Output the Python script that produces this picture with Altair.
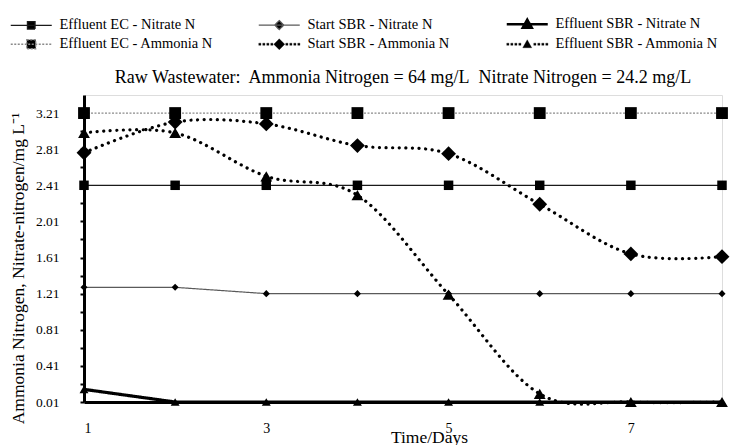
import altair as alt
import pandas as pd

days = [1, 2, 3, 4, 5, 6, 7, 8]
series_names = [
    "Effluent EC - Nitrate N",
    "Start SBR - Nitrate N",
    "Effluent SBR - Nitrate N",
    "Effluent EC - Ammonia N",
    "Start SBR - Ammonia N",
    "Effluent SBR - Ammonia N",
]
ec_nitrate = [2.41, 2.41, 2.41, 2.41, 2.41, 2.41, 2.41, 2.41]
start_nitrate = [1.28, 1.28, 1.21, 1.21, 1.21, 1.21, 1.21, 1.21]
eff_nitrate = [0.15, 0.01, 0.01, 0.01, 0.01, 0.01, 0.01, 0.01]
ec_ammonia = [3.21, 3.21, 3.21, 3.21, 3.21, 3.21, 3.21, 3.21]
start_ammonia = [2.77, 3.11, 3.09, 2.85, 2.76, 2.20, 1.65, 1.62]
eff_ammonia = [2.99, 2.99, 2.51, 2.30, 1.20, 0.10, 0.01, 0.01]

y_tick_values = [0.01, 0.21, 0.41, 0.61, 0.81, 1.01, 1.21, 1.41, 1.61, 1.81,
                 2.01, 2.21, 2.41, 2.61, 2.81, 3.01, 3.21]
x_tick_values = [1, 3, 5, 7]

all_values = [ec_nitrate, start_nitrate, eff_nitrate, ec_ammonia, start_ammonia, eff_ammonia]
rows = []
for name, vals in zip(series_names, all_values):
    for d, v in zip(days, vals):
        rows.append({"day": d, "value": v, "series": name})
df = pd.DataFrame(rows)

FONT = "Liberation Serif"

color_range = ["#1a1a1a", "#5a5a5a", "#000000", "#8a8a8a", "#000000", "#000000"]
dash_range = [[1, 0], [1, 0], [1, 0], [2, 1.5], [0.1, 6.5], [0.1, 6.5]]
legend_dash_range = [[1, 0], [1, 0], [1, 0], [2, 1.5], [1, 0], [1, 0]]
width_range = [1.2, 1.2, 3.2, 1.3, 3.2, 3.2]
legend_width_range = [1.4, 1.3, 2.6, 1.3, 0.3, 0.3]
shape_range = ["square", "diamond", "triangle-up", "square", "diamond", "triangle-up"]
size_range = [90, 50, 80, 140, 220, 140]

# dotted legend line drawn as small filled dots (style only)
_dots = "".join(
    "M{:.2f},-0.22h0.44v0.44h-0.44Z".format(p)
    for p in (-4.1, -3.3, -2.5, -1.7, 1.3, 2.1, 2.9, 3.7)
)
legend_paths = [
    "M-4.1,0H4.1M-0.75,-0.75H0.75V0.75H-0.75Z",
    "M-4.1,0H4.1M0,-0.9L0.9,0L0,0.9L-0.9,0Z",
    "M-4.1,0H4.1M0,-0.9L0.9,0.7H-0.9Z",
    "M-4.1,0H4.1M-0.9,-0.9H0.9V0.9H-0.9Z",
    _dots + "M0,-1.1L1.1,0L0,1.1L-1.1,0Z",
    _dots + "M0,-0.9L0.9,0.7H-0.9Z",
]

x_enc = alt.X(
    "day:Q",
    scale=alt.Scale(domain=[1, 8], nice=False, zero=False),
    axis=alt.Axis(
        values=x_tick_values, format="d", ticks=False, grid=False,
        domainColor="black", domainWidth=3, labelPadding=19,
        labelFont=FONT, labelFontSize=14, labelColor="black",
        title="Time/Days", titleFont=FONT, titleFontSize=17.5, titleFontWeight="normal",
        titleColor="black", titleX=345, titleY=26, titleBaseline="top", titleAlign="center",
    ),
)
y_enc = alt.Y(
    "value:Q",
    scale=alt.Scale(domain=[0.01, 3.41], nice=False, zero=False),
    axis=alt.Axis(
        values=y_tick_values,
        labelExpr="round((datum.value - 0.01) * 5) % 2 == 0 ? format(datum.value, '.2f') : ''",
        grid=False, domainColor="black", domainWidth=3,
        ticks=True, tickSize=4, tickWidth=2, tickColor="black",
        labelPadding=21, labelFont=FONT, labelFontSize=13.5, labelColor="black",
        title="Ammonia Nitrogen, Nitrate-nitrogen/mg L\u207b\u00b9",
        titleFont=FONT, titleFontSize=17.5, titleFontWeight="normal", titleColor="black",
        titleAngle=270, titleX=-66, titleY=173, titleBaseline="middle", titleAlign="center",
    ),
)

def sc(rng, typ=None):
    if typ:
        return alt.Scale(type=typ, domain=series_names, range=rng)
    return alt.Scale(domain=series_names, range=rng)

base = alt.Chart(df)

linear_names = series_names[:4]
smooth_names = series_names[4:]

lines_linear = base.transform_filter(
    alt.FieldOneOfPredicate(field="series", oneOf=linear_names)
).mark_line(interpolate="linear", strokeCap="butt").encode(
    x=x_enc, y=y_enc,
    color=alt.Color("series:N", scale=sc(color_range), legend=None),
    strokeDash=alt.StrokeDash("series:N", scale=sc(dash_range), legend=None),
    strokeWidth=alt.StrokeWidth("series:N", scale=sc(width_range, "ordinal"), legend=None),
)

lines_smooth = base.transform_filter(
    alt.FieldOneOfPredicate(field="series", oneOf=smooth_names)
).mark_line(interpolate="cardinal", strokeCap="round").encode(
    x=x_enc, y=y_enc,
    color=alt.Color("series:N", scale=sc(color_range), legend=None),
    strokeDash=alt.StrokeDash("series:N", scale=sc(dash_range), legend=None),
    strokeWidth=alt.StrokeWidth("series:N", scale=sc(width_range, "ordinal"), legend=None),
)

markers = base.mark_point(filled=True, opacity=1, color="black").encode(
    x=x_enc, y=y_enc,
    shape=alt.Shape("series:N", scale=sc(shape_range), legend=None),
    size=alt.Size("series:N", scale=sc(size_range, "ordinal"), legend=None),
)

leg = alt.Legend(
    title=None, orient="none", legendX=-60, legendY=-78, columns=3, gridAlign="all",
    direction="horizontal",
    columnPadding=31, rowPadding=3, symbolOffset=0, labelOffset=21,
    labelFont=FONT, labelFontSize=14.5, labelColor="black", labelLimit=400,
    symbolSize=100, symbolOpacity=1, symbolFillColor="black",
)

legend_layer = base.mark_point(opacity=0, fill="black", size=100).encode(
    x=x_enc, y=y_enc,
    shape=alt.Shape("series:N", scale=sc(legend_paths), legend=leg),
    stroke=alt.Stroke("series:N", scale=sc(color_range), legend=leg),
    strokeDash=alt.StrokeDash("series:N", scale=sc(legend_dash_range), legend=leg),
    strokeWidth=alt.StrokeWidth("series:N", scale=sc(legend_width_range, "ordinal"), legend=leg),
)

chart = alt.layer(lines_linear, lines_smooth, markers, legend_layer).resolve_scale(
    color="independent", shape="independent", size="independent",
    strokeDash="independent", strokeWidth="independent", stroke="independent",
).properties(
    width=638, height=307,
    autosize=alt.AutoSizeParams(type="none"),
    padding={"left": 84, "top": 95, "right": 16, "bottom": 43},
    title=alt.TitleParams(
        "Raw Wastewater:\u00a0 Ammonia Nitrogen = 64 mg/L\u00a0 Nitrate Nitrogen = 24.2 mg/L",
        font=FONT, fontSize=18, fontWeight="normal", color="black", anchor="middle",
        offset=8, dy=78,
    ),
).configure_view(stroke="#333333", strokeWidth=1).configure(background="white")

chart.save("out.html", embed_options={"renderer": "svg", "actions": False})
